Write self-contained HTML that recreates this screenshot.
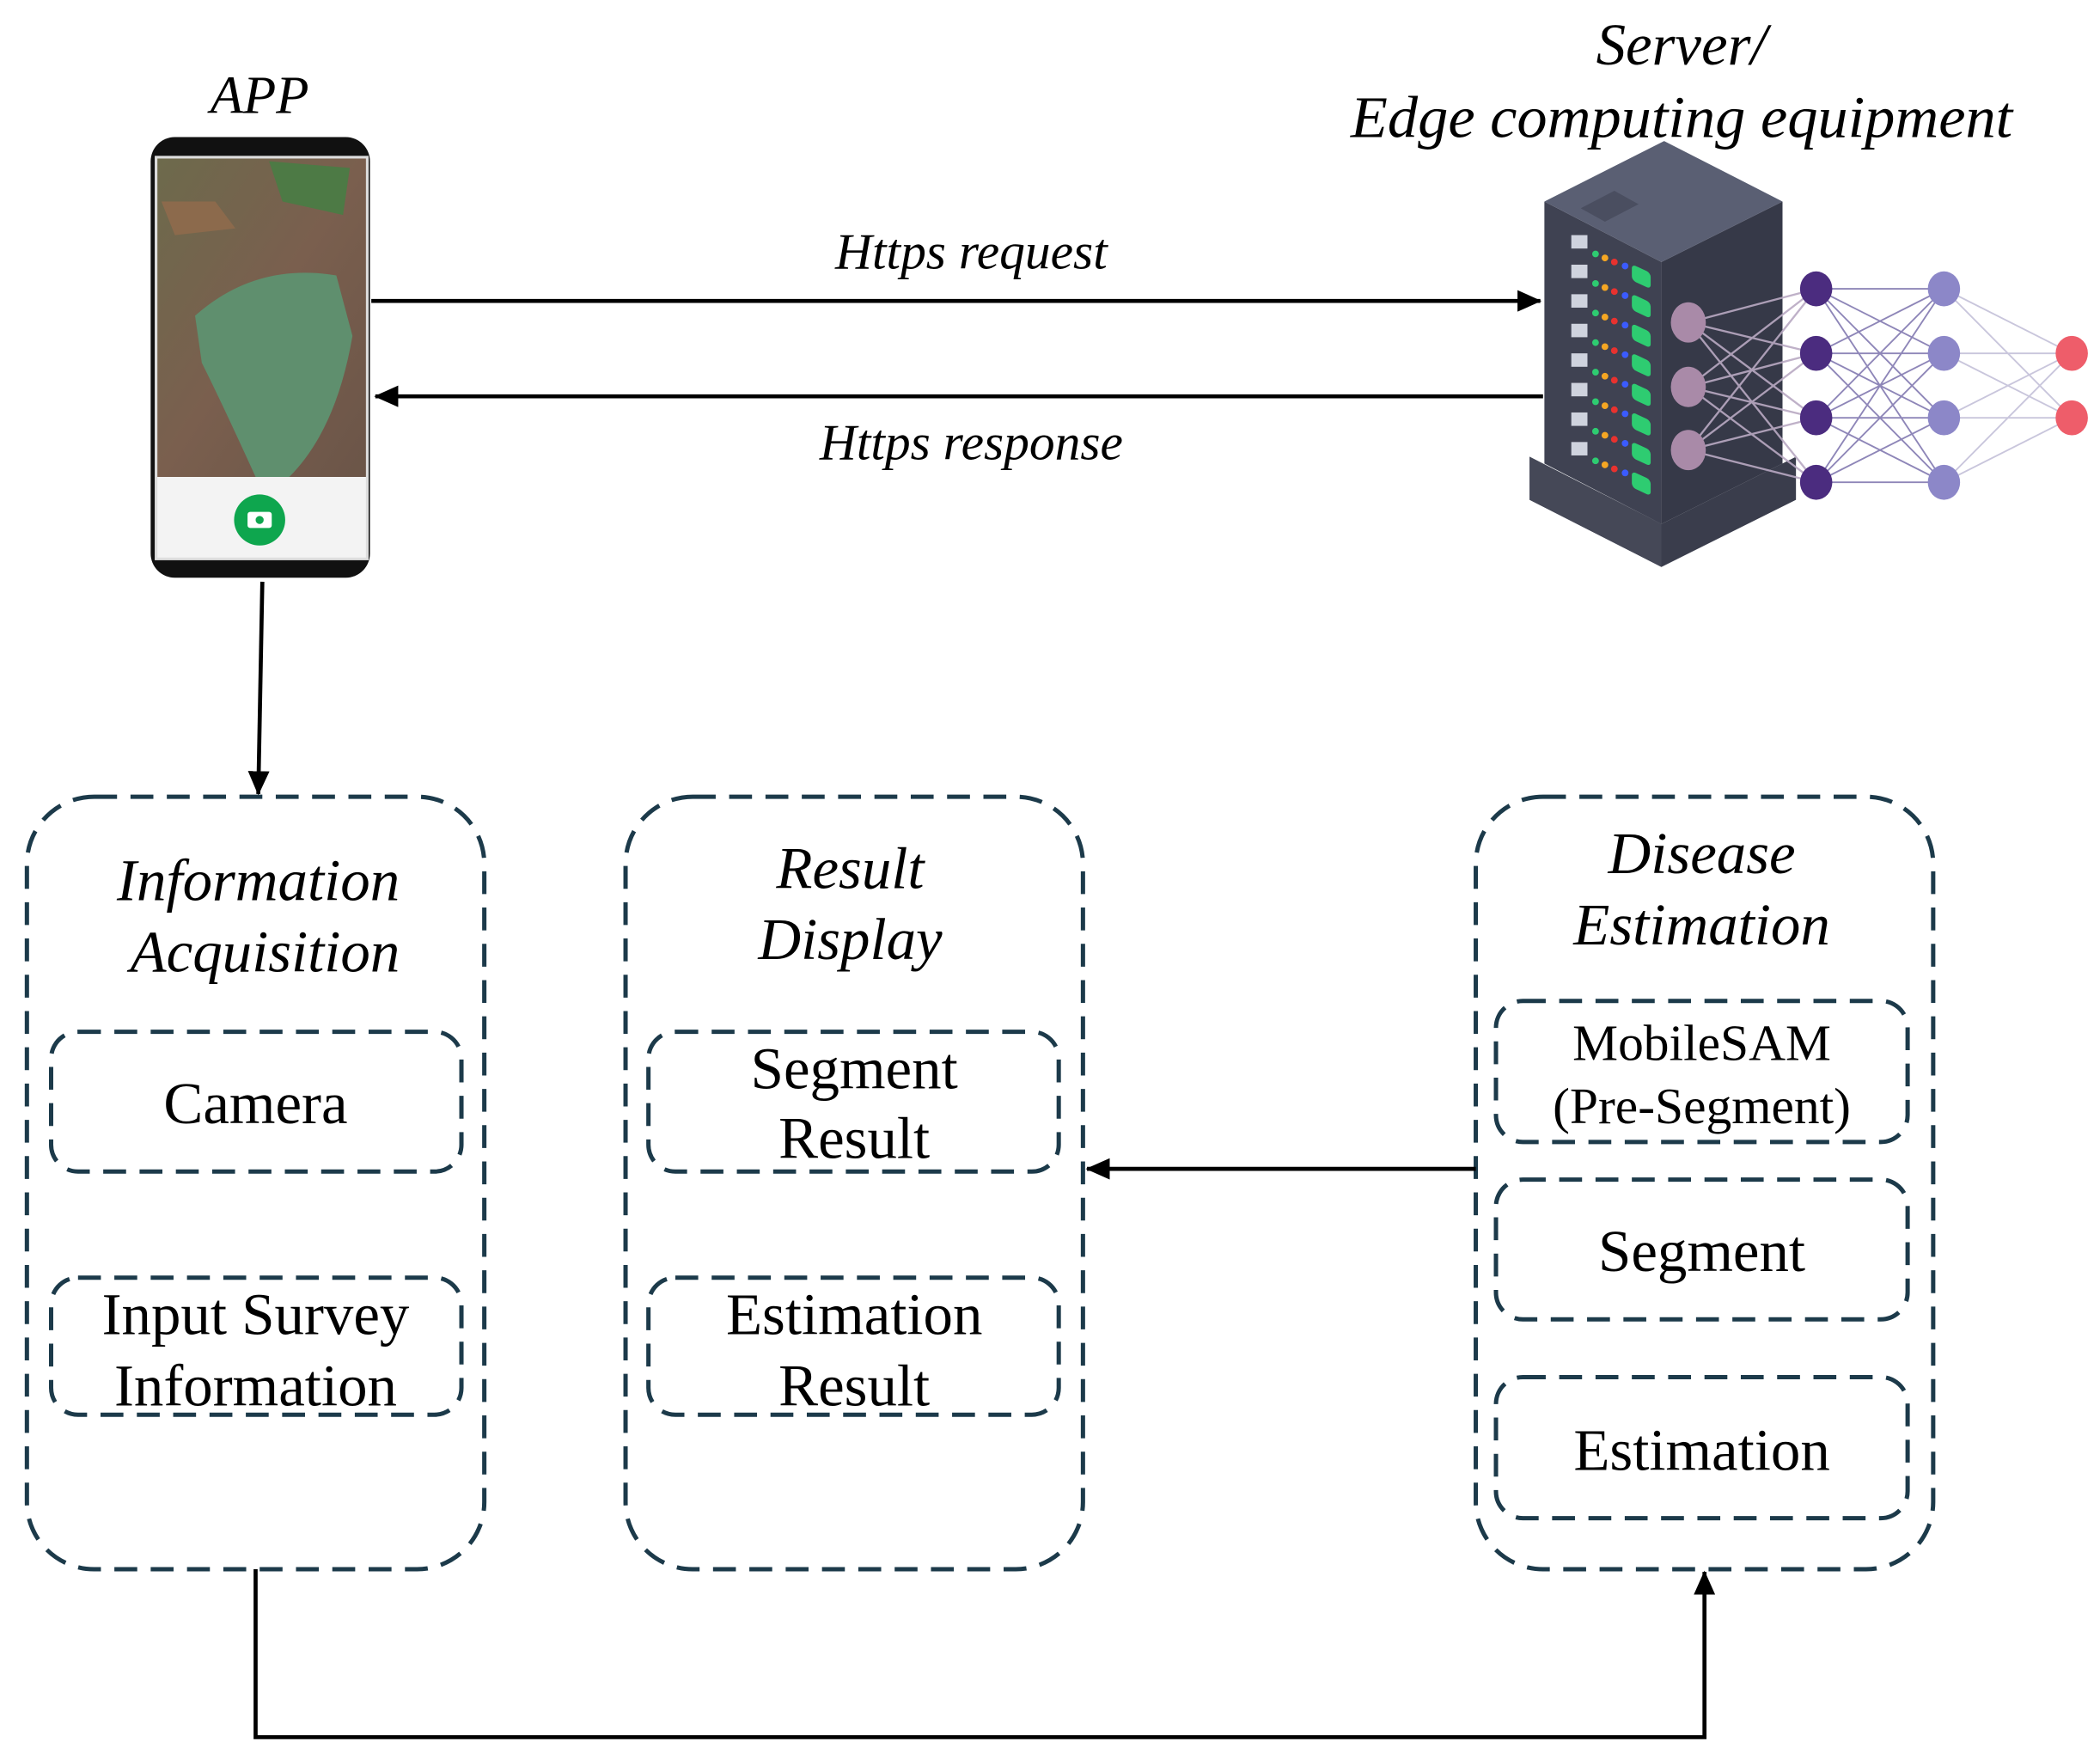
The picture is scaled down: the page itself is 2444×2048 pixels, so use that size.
<!DOCTYPE html>
<html><head><style>html,body{margin:0;padding:0;background:#fff}svg{display:block}</style></head><body>
<svg width="2444" height="2048" viewBox="0 0 1561 1310" preserveAspectRatio="none" xmlns="http://www.w3.org/2000/svg">
<defs>
<marker id="ah2" markerWidth="18" markerHeight="16" refX="17" refY="8" orient="auto" markerUnits="userSpaceOnUse"><path d="M0,0 L18,8 L0,16 Z" fill="#000"/></marker>
<linearGradient id="photo" x1="0" y1="0" x2="1" y2="1"><stop offset="0" stop-color="#6d6a4c"/><stop offset="0.5" stop-color="#7a5f4e"/><stop offset="1" stop-color="#6b5548"/></linearGradient>
</defs>
<g font-family="'Liberation Serif', serif" fill="#000">
<text x="193" y="84" font-size="40" font-style="italic" text-anchor="middle">APP</text>
<text x="1250" y="48" font-size="44" font-style="italic" text-anchor="middle">Server/</text>
<text x="1250" y="102" font-size="44" font-style="italic" text-anchor="middle" textLength="492" lengthAdjust="spacingAndGlyphs">Edge computing equipment</text>
<text x="722" y="200" font-size="38" font-style="italic" text-anchor="middle">Https request</text>
<text x="722" y="342" font-size="38" font-style="italic" text-anchor="middle">Https response</text>
</g>
<!-- phone -->
<rect x="112" y="102" width="163" height="328" rx="18" fill="#111"/>
<rect x="115" y="116" width="159" height="301" fill="#ddd"/>
<rect x="117" y="118" width="155" height="237" fill="url(#photo)"/>
<path d="M145,235 Q190,195 250,205 L262,250 Q250,320 215,355 L190,355 Q165,300 150,270 Z" fill="#5f8f6e"/>
<path d="M120,150 L160,150 L175,170 L130,175 Z" fill="#8c6a4c"/>
<path d="M200,120 L260,125 L255,160 L210,150 Z" fill="#4d7a45"/>
<rect x="117" y="355" width="155" height="60" fill="#f3f3f3"/>
<circle cx="193" cy="387" r="19" fill="#0ea64e"/>
<rect x="184" y="381" width="18" height="12" rx="2" fill="#fff"/>
<circle cx="193" cy="387" r="3" fill="#0ea64e"/>
<!-- arrows top -->
<line x1="276" y1="224" x2="1145" y2="224" stroke="#000" stroke-width="3" marker-end="url(#ah2)"/>
<line x1="1147" y1="295" x2="279" y2="295" stroke="#000" stroke-width="3" marker-end="url(#ah2)"/>
<!-- server -->
<polygon points="1137,340 1235,390 1335,340 1335,372 1235,422 1137,372" fill="#3a3d4c"/>
<polygon points="1137,340 1235,390 1235,422 1137,372" fill="#454857"/>
<polygon points="1148,150 1235,195 1235,390 1148,345" fill="#3f4252"/>
<polygon points="1235,195 1325,150 1325,345 1235,390" fill="#363948"/>
<polygon points="1148,150 1237,105 1325,150 1235,195" fill="#5a5f73"/>
<polygon points="1175,155 1200,142 1218,152 1193,165" fill="#4a4e60"/>
<g>
<g id="row"><rect x="1168" y="175" width="12" height="10" fill="#cfd3de"/><circle cx="1186" cy="189" r="2.5" fill="#2ecc71"/><circle cx="1193" cy="192" r="2.5" fill="#f5a623"/><circle cx="1200" cy="195" r="2.5" fill="#e8322f"/><circle cx="1208" cy="198" r="2.5" fill="#3b5bff"/><rect x="1213" y="196" width="14" height="12" rx="3" fill="#2ecc71" transform="skewY(25) translate(0,-565)"/></g>
<use href="#row" y="22"/><use href="#row" y="44"/><use href="#row" y="66"/><use href="#row" y="88"/><use href="#row" y="110"/><use href="#row" y="132"/><use href="#row" y="154"/>
</g>
<!-- network -->
<g stroke="#b9a9c3" stroke-width="1.5" opacity="0.9">
<path d="M1255,240L1350,215M1255,240L1350,263M1255,240L1350,311M1255,240L1350,359M1255,288L1350,215M1255,288L1350,263M1255,288L1350,311M1255,288L1350,359M1255,335L1350,215M1255,335L1350,263M1255,335L1350,311M1255,335L1350,359"/>
</g>
<g stroke="#8e86b8" stroke-width="1.2">
<path d="M1350,215L1445,215M1350,215L1445,263M1350,215L1445,311M1350,215L1445,359M1350,263L1445,215M1350,263L1445,263M1350,263L1445,311M1350,263L1445,359M1350,311L1445,215M1350,311L1445,263M1350,311L1445,311M1350,311L1445,359M1350,359L1445,215M1350,359L1445,263M1350,359L1445,311M1350,359L1445,359"/>
</g>
<g stroke="#c9c6dc" stroke-width="1.2">
<path d="M1445,215L1540,263M1445,215L1540,311M1445,263L1540,263M1445,263L1540,311M1445,311L1540,263M1445,311L1540,311M1445,359L1540,263M1445,359L1540,311"/>
</g>
<g fill="#a98aa8"><ellipse cx="1255" cy="240" rx="13" ry="15"/><ellipse cx="1255" cy="288" rx="13" ry="15"/><ellipse cx="1255" cy="335" rx="13" ry="15"/></g>
<g fill="#4b2c7f"><ellipse cx="1350" cy="215" rx="12" ry="13"/><ellipse cx="1350" cy="263" rx="12" ry="13"/><ellipse cx="1350" cy="311" rx="12" ry="13"/><ellipse cx="1350" cy="359" rx="12" ry="13"/></g>
<g fill="#8c87c8"><ellipse cx="1445" cy="215" rx="12" ry="13"/><ellipse cx="1445" cy="263" rx="12" ry="13"/><ellipse cx="1445" cy="311" rx="12" ry="13"/><ellipse cx="1445" cy="359" rx="12" ry="13"/></g>
<g fill="#ee5d6a"><ellipse cx="1540" cy="263" rx="12" ry="13"/><ellipse cx="1540" cy="311" rx="12" ry="13"/></g>
<!-- down arrow -->
<line x1="195" y1="433" x2="192" y2="591" stroke="#000" stroke-width="3" marker-end="url(#ah2)"/>
<!-- dashed boxes -->
<g fill="none" stroke="#1c3a4a" stroke-width="3.2" stroke-dasharray="17 10">
<rect x="20" y="593" width="340" height="575" rx="50"/>
<rect x="465" y="593" width="340" height="575" rx="50"/>
<rect x="1097" y="593" width="340" height="575" rx="50"/>
<rect x="38" y="768" width="305" height="104" rx="20"/>
<rect x="38" y="951" width="305" height="102" rx="20"/>
<rect x="482" y="768" width="305" height="104" rx="20"/>
<rect x="482" y="951" width="305" height="102" rx="20"/>
<rect x="1112" y="745" width="306" height="105" rx="20"/>
<rect x="1112" y="878" width="306" height="104" rx="20"/>
<rect x="1112" y="1025" width="306" height="105" rx="20"/>
</g>
<g font-family="'Liberation Serif', serif" fill="#000" text-anchor="middle" font-size="44">
<g font-style="italic">
<text x="192" y="670">Information</text><text x="197" y="723">Acquisition</text>
<text x="632" y="661">Result</text><text x="632" y="714">Display</text>
<text x="1265" y="650">Disease</text><text x="1265" y="703">Estimation</text>
</g>
<text x="190" y="836">Camera</text>
<text x="190" y="993">Input Survey</text><text x="190" y="1046">Information</text>
<text x="635" y="810">Segment</text><text x="635" y="862">Result</text>
<text x="635" y="993">Estimation</text><text x="635" y="1046">Result</text>
<text x="1265" y="789" font-size="38">MobileSAM</text><text x="1265" y="836" font-size="38">(Pre-Segment)</text>
<text x="1265" y="946">Segment</text>
<text x="1265" y="1094">Estimation</text>
</g>
<!-- connectors -->
<line x1="1097" y1="870" x2="808" y2="870" stroke="#000" stroke-width="3" marker-end="url(#ah2)"/>
<polyline points="190,1168 190,1293 1267,1293 1267,1170" fill="none" stroke="#000" stroke-width="3" marker-end="url(#ah2)"/>
</svg>
</body></html>
